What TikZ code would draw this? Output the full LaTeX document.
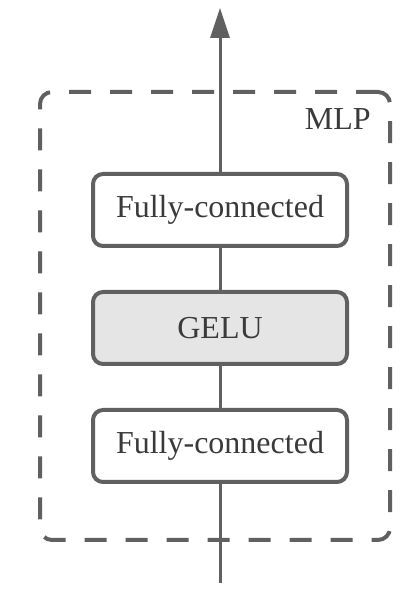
\documentclass[tikz,border=0pt]{standalone}
\usepackage{fontspec}
\setmainfont{Liberation Serif}
\usetikzlibrary{positioning,arrows.meta}
\definecolor{LineGray}{HTML}{606060}
\definecolor{TextGray}{HTML}{3A3A3A}
\colorlet{LightGray}{black!10}
\tikzstyle{MLPblock}=[draw=LineGray,line width=2pt,rounded corners=5pt,fill=white,minimum width=127pt,minimum height=36pt,inner sep=0pt,text=TextGray,font=\fontsize{16}{19}\selectfont]
\tikzstyle{actBlock}=[MLPblock,fill=LightGray]
\tikzstyle{MLPframe}=[draw=LineGray,line width=2pt,dash pattern=on 11pt off 9.5pt,rounded corners=6pt,minimum width=175pt,minimum height=224pt,inner sep=0pt]
\tikzstyle{labelNode}=[inner sep=0pt,text=TextGray,font=\fontsize{16}{19}\selectfont]
\tikzstyle{flowLine}=[draw=LineGray,line width=1.5pt]
\tikzstyle{dataFlow}=[flowLine,-{Triangle[length=15pt,width=9.5pt]}]

\begin{document}
\begin{tikzpicture}[x=0.5pt,y=0.5pt]
        \useasboundingbox (0,0) rectangle (412,614);

        % MLP frame
        \node[MLPframe] (frame) at (215,298) {};
        \node[labelNode,anchor=base east] (mlpLabel) at (371,484) {MLP};

        % Layers
        \node[MLPblock] (fc2) at (220,404) {Fully-connected};
        \node[actBlock,below=21pt of fc2] (gelu) {GELU};
        \node[MLPblock,below=21pt of gelu] (fc1) {Fully-connected};
        \coordinate (in) at (220,31);
        \coordinate (out) at (220,606);

        \draw[flowLine] (in) -- (fc1);
        \draw[flowLine] (fc1) -- (gelu);
        \draw[flowLine] (gelu) -- (fc2);
        \draw[dataFlow] (fc2) -- (out);

\end{tikzpicture}
\end{document}
